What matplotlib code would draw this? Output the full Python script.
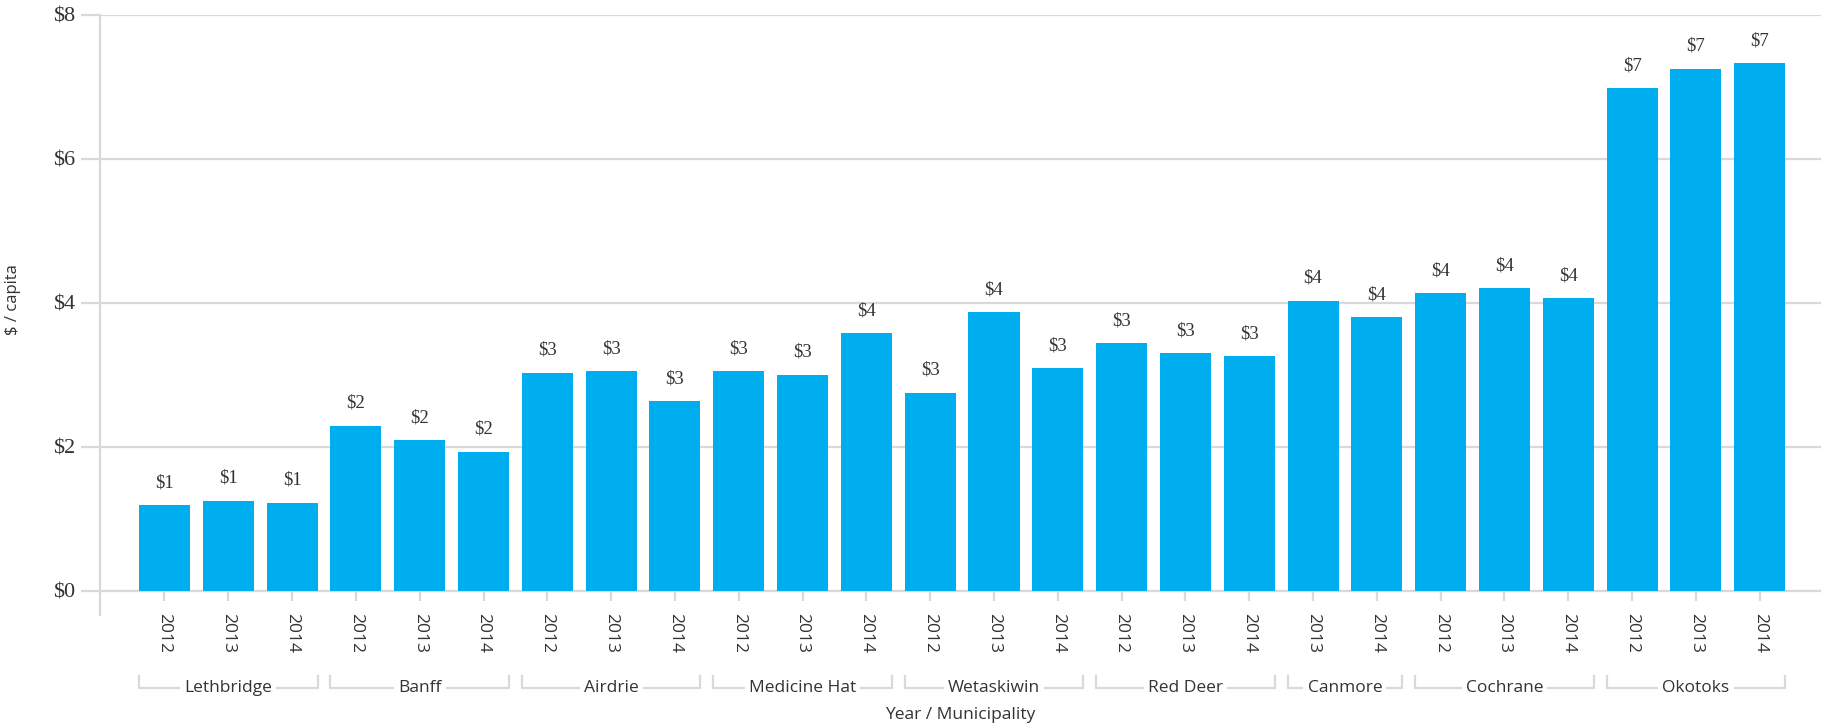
import matplotlib.pyplot as plt
import matplotlib.transforms as mtransforms
from matplotlib.ticker import FixedLocator

# data
municipalities = ["Lethbridge", "Banff", "Airdrie", "Medicine Hat", "Wetaskiwin",
                  "Red Deer", "Canmore", "Cochrane", "Okotoks"]
years = [
    ["2012", "2013", "2014"],
    ["2012", "2013", "2014"],
    ["2012", "2013", "2014"],
    ["2012", "2013", "2014"],
    ["2012", "2013", "2014"],
    ["2012", "2013", "2014"],
    ["2013", "2014"],
    ["2012", "2013", "2014"],
    ["2012", "2013", "2014"],
]
values = [
    [1.19, 1.25, 1.22],
    [2.29, 2.09, 1.93],
    [3.03, 3.05, 2.63],
    [3.05, 3.00, 3.58],
    [2.75, 3.87, 3.09],
    [3.44, 3.30, 3.26],
    [4.03, 3.80],
    [4.13, 4.20, 4.06],
    [6.98, 7.25, 7.33],
]
y_ticks = [0, 2, 4, 6, 8]

BAR = "#00aeef"
GRID = "#d9d9d9"
TEXT = "#333333"
SANS = "Open Sans"
SERIF = "Liberation Serif"

fig = plt.figure(figsize=(18.21, 7.27), dpi=100)
ax = fig.add_axes([100 / 1821, 1 - 590.7 / 727, 1 - 100 / 1821, 576 / 727])

xs, hs, labels, groups = [], [], [], []
pos = 0
for name, yrs, vals in zip(municipalities, years, values):
    start = pos
    for yr, v in zip(yrs, vals):
        xs.append(pos)
        hs.append(v)
        labels.append(yr)
        pos += 1
    groups.append((name, start, pos - 1))

ax.bar(xs, hs, width=0.8, color=BAR, zorder=3)
for x, h in zip(xs, hs):
    ax.annotate(f"${round(h):d}", (x, h), xytext=(0, 10),
                textcoords="offset points", ha="center", va="bottom",
                fontsize=13.5, family=SERIF, color=TEXT)

x_left = -1.01
ax.set_xlim(x_left, len(xs) - 1 + 0.96)
ax.set_ylim(0, 8)
ax.set_yticks(y_ticks)
ax.set_yticklabels([f"${t}" for t in y_ticks], family=SERIF, fontsize=16, color=TEXT)
ax.yaxis.grid(True, color=GRID, linewidth=1.6, zorder=0)
ax.tick_params(axis="y", length=14, width=1.6, color=GRID, pad=4)

ax.set_xticks(xs)
ax.set_xticklabels(labels, rotation=-90, family=SANS, fontsize=12.5, color=TEXT)
ax.tick_params(axis="x", which="major", length=7, width=1.6, color=GRID, pad=9)
ax.xaxis.set_minor_locator(FixedLocator([x_left]))
ax.tick_params(axis="x", which="minor", length=18, width=1.6, color=GRID)

for side in ["top", "right"]:
    ax.spines[side].set_visible(False)
for side in ["left", "bottom"]:
    ax.spines[side].set_color(GRID)
    ax.spines[side].set_linewidth(1.6)

# group brackets under the year labels
trans = mtransforms.blended_transform_factory(ax.transData, fig.transFigure)
y_line = 1 - 688 / 727
y_top = 1 - 676 / 727
for name, a, b in groups:
    x0, x1 = a - 0.4, b + 0.4
    ax.plot([x0, x0, x1, x1], [y_top, y_line, y_line, y_top], transform=trans,
            color=GRID, linewidth=1.6, clip_on=False)
    ax.text((x0 + x1) / 2, y_line, name, transform=trans, ha="center", va="center",
            family=SANS, fontsize=12.5, color=TEXT,
            bbox=dict(facecolor="white", edgecolor="none", pad=3))

fig.text((100 + 1821) / 2 / 1821, 1 - 715 / 727, "Year / Municipality", ha="center",
         va="center", family=SANS, fontsize=12.5, color=TEXT)
fig.text(13 / 1821, 1 - 300 / 727, "$ / capita", rotation=90, ha="center",
         va="center", family=SANS, fontsize=12, color=TEXT)

fig.savefig("out.png", dpi=100)
